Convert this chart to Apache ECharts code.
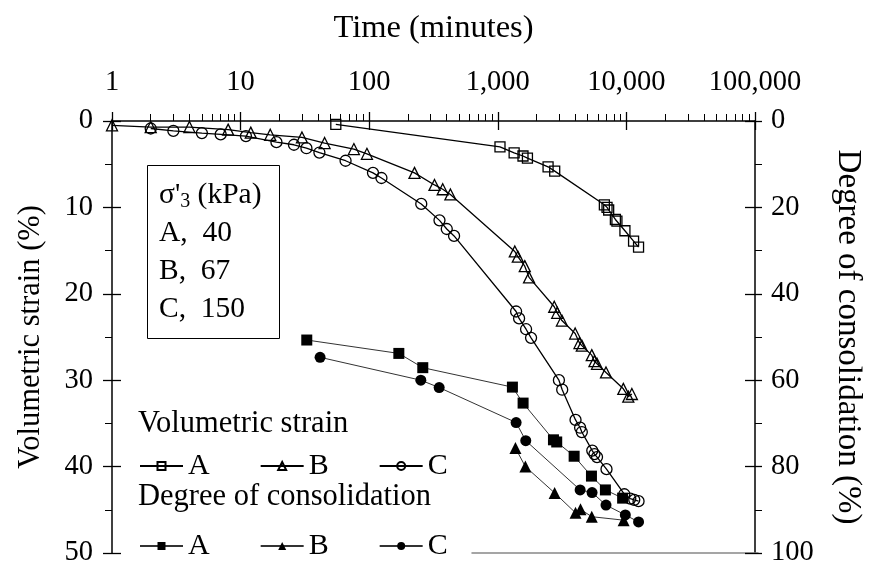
<!DOCTYPE html>
<html><head><meta charset="utf-8">
<script src="https://cdn.jsdelivr.net/npm/echarts@6/dist/echarts.min.js"></script>
<style>html,body{margin:0;padding:0;background:#fff}#c{width:872px;height:576px}</style>
</head><body><div id="c"></div>
<script>
const FONT = '"Liberation Serif", "Times New Roman", serif';

// Tick labels of the (log) time axis
const xTickLabels = ['1', '10', '100', '1,000', '10,000', '100,000'];

// Volumetric strain (%), open symbols
const timeVA = [55, 1040, 1340, 1570, 1700, 2460, 2770, 6740, 7070, 7280, 8210, 8440, 9740, 11370, 12430];
const strainVA = [0.4, 3.0, 3.7, 4.05, 4.3, 5.3, 5.8, 9.7, 10.0, 10.3, 11.4, 11.6, 12.7, 13.9, 14.6];

const timeVB = [1, 2, 4, 8, 12, 17, 30, 45, 76, 96, 225, 322, 373, 428, 1356, 1431, 1621, 1750, 2748, 2898, 3151, 3995, 4319, 4501, 5379, 5644, 5910, 6940, 9463, 10345, 11030];
const strainVB = [0.5, 0.7, 0.7, 1.0, 1.35, 1.6, 1.9, 2.55, 3.25, 3.8, 6.0, 7.4, 7.9, 8.5, 15.1, 15.7, 16.8, 18.1, 21.5, 22.2, 23.1, 24.6, 25.7, 26.0, 27.1, 27.8, 28.1, 29.1, 31.0, 31.9, 31.6];

const timeVC = [2, 3, 5, 7, 11, 19, 26, 32.5, 41, 65.5, 107, 124.5, 254, 352, 401, 457, 1388, 1464, 1659, 1814, 2987, 3168, 4022, 4367, 4501, 5427, 5644, 5910, 7003, 9632, 10720, 11510, 12430];
const strainVC = [0.87, 1.15, 1.4, 1.55, 1.75, 2.45, 2.75, 3.15, 3.65, 4.6, 6.0, 6.6, 9.6, 11.5, 12.5, 13.3, 22.05, 22.85, 24.1, 25.1, 30.0, 31.1, 34.6, 35.5, 36.0, 38.15, 38.55, 38.9, 40.3, 43.2, 43.7, 43.85, 44.0];

// Degree of consolidation (%), filled symbols
const timeDA = [32.7, 170, 261, 1299, 1573, 2709, 2872, 3923, 5349, 6867, 9346];
const degDA = [50.7, 53.8, 57.1, 61.6, 65.3, 73.8, 74.3, 77.6, 82.2, 85.4, 87.3];

const timeDB = [1371, 1638, 2767, 4022, 4398, 5379, 9513];
const degDB = [75.7, 80.0, 86.1, 90.7, 89.9, 91.6, 92.4];

const timeDC = [41.5, 252, 350, 1388, 1650, 4367, 5408, 6940, 9806, 12430];
const degDC = [54.7, 60.0, 61.7, 69.8, 74.0, 85.4, 86.0, 88.9, 91.2, 92.8];

const legendNamesV = ['A', 'B', 'C'];
const legendNamesD = ['A ', 'B ', 'C '];

function pairs(t, v) { return t.map((x, i) => [x, v[i]]); }

const hollow = { color: 'rgba(0,0,0,0)', borderColor: '#000', borderWidth: 1.3 };
const filled = { color: '#000', borderColor: '#000', borderWidth: 0 };
const blackLine = { color: '#000', width: 1.3 };
const greyLine = { color: '#333', width: 1 };

function mkSeries(name, t, v, yIdx, symbol, size, itemStyle, lineStyle) {
  return { name, type: 'line', xAxisIndex: 0, yAxisIndex: yIdx, data: pairs(t, v),
    symbol, symbolSize: size, showAllSymbol: true, itemStyle, lineStyle, animation: false,
    emphasis: { disabled: true } };
}

const tickStyle = { color: '#000', width: 1.3 };
const txt = { fontFamily: FONT, color: '#000' };

const option = {
  backgroundColor: '#fff',
  animation: false,
  grid: [
    { left: 112, right: 114, top: 121, bottom: 23 },
    { left: 472, right: 114, top: 121, bottom: 23 }
  ],
  title: [
    { text: 'Volumetric strain', left: 138, top: 409, padding: 0,
      textStyle: Object.assign({ fontSize: 30.5, fontWeight: 'normal', lineHeight: 30 }, txt) },
    { text: 'Degree of consolidation', left: 138, top: 482, padding: 0,
      textStyle: Object.assign({ fontSize: 30.5, fontWeight: 'normal', lineHeight: 30 }, txt) },
    { text: "{s|σ'}{sub|3}{s| (kPa)}\n{s|A,  40}\n{s|B,  67}\n{s|C,  150}",
      left: 147, top: 165, borderColor: '#000', borderWidth: 1, padding: [11, 18, 11, 12],
      textStyle: Object.assign({ fontSize: 29, fontWeight: 'normal', lineHeight: 38,
        rich: {
          s: { fontFamily: FONT, fontSize: 29.5, lineHeight: 38, color: '#000' },
          sub: { fontFamily: FONT, fontSize: 20, lineHeight: 38, color: '#000', padding: [14, 0, 0, 0] }
        } }, txt) }
  ],
  legend: [
    { data: legendNamesV, left: 139, top: 451, orient: 'horizontal', itemWidth: 43, itemHeight: 10,
      itemGap: 50, padding: 0, selectedMode: false, formatter: n => n.trim(),
      textStyle: Object.assign({ fontSize: 30 }, txt) },
    { data: legendNamesD, left: 139, top: 531, orient: 'horizontal', itemWidth: 43, itemHeight: 10,
      itemGap: 50, padding: 0, selectedMode: false, formatter: n => n.trim(),
      textStyle: Object.assign({ fontSize: 30 }, txt) }
  ],
  xAxis: [
    { type: 'log', logBase: 10, min: 1, max: 100000, position: 'top', gridIndex: 0,
      name: 'Time (minutes)', nameLocation: 'middle', nameGap: 76,
      nameTextStyle: Object.assign({ fontSize: 32.5 }, txt),
      axisLine: { onZero: false, lineStyle: { color: '#000', width: 1.5 } },
      axisTick: { show: true, inside: false, length: 9, lineStyle: tickStyle },
      minorTick: { show: true, splitNumber: 9, length: 7, lineStyle: { color: '#000', width: 1 } },
      axisLabel: Object.assign({ margin: 24, fontSize: 28.5,
        formatter: v => xTickLabels[Math.round(Math.log10(v))] }, txt),
      splitLine: { show: false }, minorSplitLine: { show: false } },
    { type: 'log', logBase: 10, min: 1, max: 100000, position: 'top', gridIndex: 0,
      axisLine: { show: false, onZero: false },
      axisTick: { show: true, inside: true, length: 9, lineStyle: tickStyle },
      axisLabel: { show: false }, splitLine: { show: false } },
    { type: 'value', gridIndex: 1, position: 'bottom', min: 0, max: 1,
      axisLine: { onZero: false, lineStyle: { color: '#888', width: 1.5 } },
      axisTick: { show: false }, axisLabel: { show: false }, splitLine: { show: false } }
  ],
  yAxis: [
    { type: 'value', gridIndex: 0, position: 'left', inverse: true, min: 0, max: 50, interval: 10,
      name: 'Volumetric strain (%)', nameLocation: 'middle', nameGap: 66,
      nameTextStyle: Object.assign({ fontSize: 30.5 }, txt),
      axisLine: { show: true, onZero: false, lineStyle: { color: '#000', width: 1.5 } },
      axisTick: { show: true, inside: false, length: 9, lineStyle: tickStyle },
      minorTick: { show: true, splitNumber: 2, length: 7, lineStyle: { color: '#000', width: 1 } },
      axisLabel: Object.assign({ margin: 19, fontSize: 28.5 }, txt),
      splitLine: { show: false } },
    { type: 'value', gridIndex: 0, position: 'left', inverse: true, min: 0, max: 50, interval: 10,
      axisLine: { show: false, onZero: false },
      axisTick: { show: true, inside: true, length: 9, lineStyle: tickStyle },
      axisLabel: { show: false }, splitLine: { show: false } },
    { type: 'value', gridIndex: 0, position: 'right', inverse: true, min: 0, max: 100, interval: 20,
      name: 'Degree of consolidation (%)', nameLocation: 'middle', nameGap: 76, nameRotate: -90,
      nameTextStyle: Object.assign({ fontSize: 33 }, txt),
      axisLine: { show: true, onZero: false, lineStyle: { color: '#000', width: 1.5 } },
      axisTick: { show: true, inside: false, length: 7, lineStyle: tickStyle },
      minorTick: { show: true, splitNumber: 2, length: 7, lineStyle: { color: '#000', width: 1 } },
      axisLabel: Object.assign({ margin: 16, fontSize: 28.5 }, txt),
      splitLine: { show: false } },
    { type: 'value', gridIndex: 0, position: 'right', inverse: true, min: 0, max: 100, interval: 20,
      axisLine: { show: false, onZero: false },
      axisTick: { show: true, inside: true, length: 10, lineStyle: tickStyle },
      axisLabel: { show: false }, splitLine: { show: false } },
    { type: 'value', gridIndex: 1, show: false, min: 0, max: 1 }
  ],
  series: [
    mkSeries('A', timeVA, strainVA, 0, 'rect', 10, hollow, blackLine),
    mkSeries('B', timeVB, strainVB, 0, 'triangle', 11, hollow, blackLine),
    mkSeries('C', timeVC, strainVC, 0, 'circle', 11, hollow, blackLine),
    mkSeries('A ', timeDA, degDA, 2, 'rect', 11, filled, greyLine),
    mkSeries('B ', timeDB, degDB, 2, 'triangle', 12, filled, greyLine),
    mkSeries('C ', timeDC, degDC, 2, 'circle', 11, filled, greyLine)
  ]
};

const chart = echarts.init(document.getElementById('c'), null, { renderer: 'canvas' });
chart.setOption(option);
</script></body></html>
